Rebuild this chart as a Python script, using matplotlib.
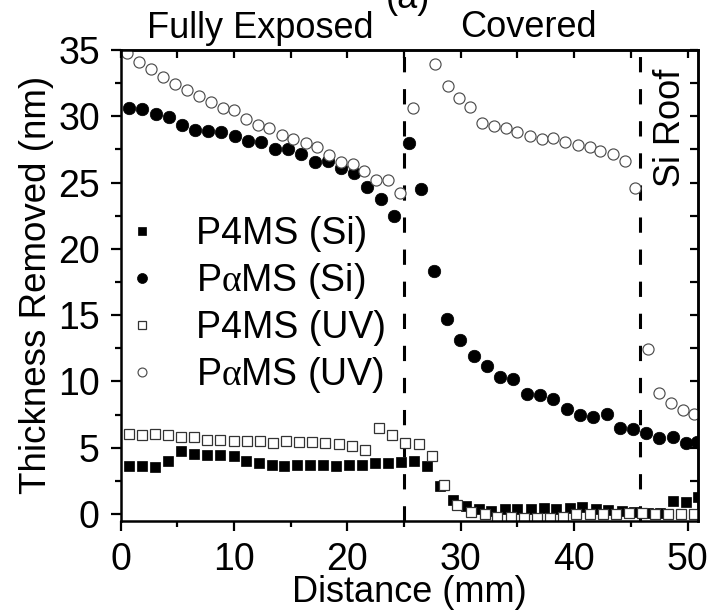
import matplotlib
matplotlib.use("Agg")
import matplotlib.pyplot as plt

plt.rcParams["font.family"] = ["Liberation Sans", "DejaVu Sans"]
plt.rcParams["mathtext.fontset"] = "custom"
plt.rcParams["mathtext.rm"] = "Liberation Serif"

# P4MS on Si roof (filled squares)
x_p4ms_si = [0.76, 1.88, 3.03, 4.17, 5.32, 6.50, 7.65, 8.79, 9.97, 11.03,
             12.18, 13.32, 14.44, 15.59, 16.70, 17.85, 19.00, 20.15, 21.30, 22.47,
             23.59, 24.74, 25.89, 27.00, 28.20, 29.30, 30.50, 31.60, 32.70, 33.90,
             35.00, 36.20, 37.30, 38.40, 39.60, 40.70, 41.90, 43.00, 44.20, 45.30,
             46.50, 47.60, 48.70, 49.90, 50.90]
y_p4ms_si = [3.62, 3.62, 3.52, 3.97, 4.72, 4.52, 4.42, 4.42, 4.37, 3.97,
             3.82, 3.72, 3.62, 3.67, 3.67, 3.67, 3.62, 3.67, 3.67, 3.82,
             3.87, 3.92, 3.97, 3.64, 2.15, 1.05, 0.60, 0.42, 0.22, 0.36,
             0.40, 0.35, 0.48, 0.42, 0.48, 0.52, 0.35, 0.33, 0.20, 0.15,
             0.05, 0.05, 0.97, 0.88, 1.28]

# PaMS on Si roof (filled circles)
x_pams_si = [0.76, 1.88, 3.09, 4.24, 5.38, 6.58, 7.68, 8.88, 10.06, 11.24,
             12.41, 13.59, 14.74, 15.91, 17.15, 18.30, 19.45, 20.60, 21.74, 22.97,
             24.10, 25.40, 26.45, 27.60, 28.77, 29.95, 31.20, 32.30, 33.50, 34.60,
             35.80, 37.00, 38.10, 39.40, 40.50, 41.70, 42.90, 44.00, 45.20, 46.30,
             47.50, 48.70, 49.90, 50.80]
y_pams_si = [30.60, 30.54, 30.19, 29.96, 29.34, 28.94, 28.88, 28.79, 28.51, 28.13,
             28.03, 27.55, 27.53, 27.15, 26.55, 26.60, 26.12, 25.69, 24.68, 23.76,
             22.50, 27.95, 24.53, 18.37, 14.70, 13.12, 11.92, 11.19, 10.36, 10.20,
             9.02, 8.97, 8.65, 7.94, 7.47, 7.29, 7.52, 6.51, 6.39, 6.13,
             5.75, 5.83, 5.38, 5.45]

# P4MS under UV (open squares)
x_p4ms_uv = [0.76, 1.88, 3.03, 4.17, 5.32, 6.50, 7.65, 8.79, 9.97, 11.12,
             12.30, 13.44, 14.59, 15.77, 16.91, 18.06, 19.24, 20.41, 21.59, 22.77,
             23.94, 25.09, 26.27, 27.45, 28.56, 29.70, 30.90, 32.10, 33.20, 34.40,
             35.60, 36.70, 37.90, 39.00, 40.20, 41.40, 42.50, 43.65, 44.80, 46.00,
             47.10, 48.30, 49.40, 50.60]
y_p4ms_uv = [6.06, 5.98, 6.01, 5.96, 5.81, 5.81, 5.61, 5.56, 5.48, 5.53,
             5.48, 5.38, 5.48, 5.43, 5.43, 5.38, 5.26, 5.11, 4.86, 6.51,
             5.93, 5.36, 5.31, 4.36, 2.20, 0.65, 0.18, 0.00, -0.20, -0.25,
             -0.27, -0.27, -0.27, -0.23, -0.03, -0.03, -0.03, 0.02, 0.07, 0.07,
             -0.03, 0.02, 0.02, 0.02]

# PaMS under UV (open circles)
x_pams_uv = [0.55, 1.64, 2.67, 3.70, 4.82, 5.83, 6.88, 7.94, 9.00, 10.03,
             11.06, 12.12, 13.12, 14.20, 15.24, 16.33, 17.30, 18.41, 19.42, 20.47,
             21.50, 22.53, 23.56, 24.65, 25.74, 27.74, 28.83, 29.80, 30.77, 31.86,
             32.97, 33.98, 34.95, 36.13, 37.16, 38.13, 39.15, 40.33, 41.36, 42.30,
             43.39, 44.45, 45.39, 46.50, 47.50, 48.50, 49.60, 50.60]
y_pams_uv = [34.74, 34.11, 33.56, 32.98, 32.41, 31.98, 31.52, 31.05, 30.60, 30.47,
             29.79, 29.34, 29.09, 28.58, 28.26, 27.96, 27.70, 27.07, 26.52, 26.40,
             25.87, 25.19, 25.19, 24.23, 30.60, 33.94, 32.30, 31.35, 30.67, 29.46,
             29.26, 29.09, 28.83, 28.53, 28.26, 28.38, 28.08, 27.83, 27.70, 27.40,
             27.15, 26.64, 24.61, 12.44, 9.10, 8.40, 7.84, 7.52]

region_edges = [25.0, 45.8]
labels = ["P4MS (Si)", "P$\\mathrm{\\alpha}$MS (Si)",
          "P4MS (UV)", "P$\\mathrm{\\alpha}$MS (UV)"]

fig = plt.figure(figsize=(7.12, 6.16), dpi=100)
ax = fig.add_axes([0.1695, 0.1547, 0.8105, 0.7641])

ax.plot(x_p4ms_si, y_p4ms_si, ls="none", marker="s", ms=7.6,
        mfc="black", mec="black", mew=0.5, label=labels[0])
ax.plot(x_pams_si, y_pams_si, ls="none", marker="o", ms=9.0,
        mfc="black", mec="black", mew=0.5, label=labels[1])
ax.plot(x_p4ms_uv, y_p4ms_uv, ls="none", marker="s", ms=7.0,
        mfc="white", mec="#333333", mew=0.9, label=labels[2])
ax.plot(x_pams_uv, y_pams_uv, ls="none", marker="o", ms=8.0,
        mfc="white", mec="#4d4d4d", mew=0.85, label=labels[3])

for xe in region_edges:
    ax.axvline(xe, color="black", lw=2.2, ls=(0, (5.0, 5.5)), zorder=1)

ax.set_xlim(0, 50.9)
ax.set_ylim(-0.5, 35)
ax.set_xticks([0, 10, 20, 30, 40, 50])
ax.set_xticks([5, 15, 25, 35, 45], minor=True)
ax.set_yticks(range(0, 36, 5))
ax.set_yticks([2.5 + 5 * i for i in range(7)], minor=True)

for s in ax.spines.values():
    s.set_linewidth(1.8)

ax.tick_params(which="both", labelsize=27, width=1.6)
ax.tick_params(which="major", direction="out", length=7)
ax.tick_params(which="minor", direction="out", length=4.5)
ax.tick_params(axis="x", which="both", pad=8)
ax.tick_params(axis="y", which="both", pad=8)
# mirror ticks on top and right, pointing inward
sec_x = ax.secondary_xaxis("top")
sec_x.set_xticks([0, 10, 20, 30, 40, 50])
sec_x.set_xticks([5, 15, 25, 35, 45], minor=True)
sec_x.tick_params(which="both", direction="in", length=6, width=1.6,
                  labeltop=False)
sec_x.spines["top"].set_linewidth(1.8)
sec_y = ax.secondary_yaxis("right")
sec_y.set_yticks(range(0, 36, 5))
sec_y.set_yticks([2.5 + 5 * i for i in range(7)], minor=True)
sec_y.tick_params(which="both", direction="in", length=6, width=1.6,
                  labelright=False)
sec_y.spines["right"].set_linewidth(1.8)

ax.set_xlabel("Distance (mm)", fontsize=26, labelpad=-2)
ax.set_ylabel("Thickness Removed (nm)", fontsize=26.5, labelpad=3)

ax.text(12.34, 35.9, "Fully Exposed", fontsize=26, ha="center",
        va="baseline", clip_on=False)
ax.text(35.96, 36.0, "Covered", fontsize=26, ha="center",
        va="baseline", clip_on=False)
ax.text(25.3, 38.2, "(a)", fontsize=26, ha="center", va="baseline",
        clip_on=False)
ax.text(48.5, 29.1, "Si Roof", fontsize=26, rotation=90, ha="center",
        va="center")

ax.legend(loc="center left", bbox_to_anchor=(0.005, 0.458), frameon=False,
          fontsize=27, handlelength=1.0, handletextpad=0.93,
          labelspacing=0.24, borderpad=0, borderaxespad=0, markerscale=0.8)

fig.savefig("out.png", dpi=100)
plt.close(fig)
